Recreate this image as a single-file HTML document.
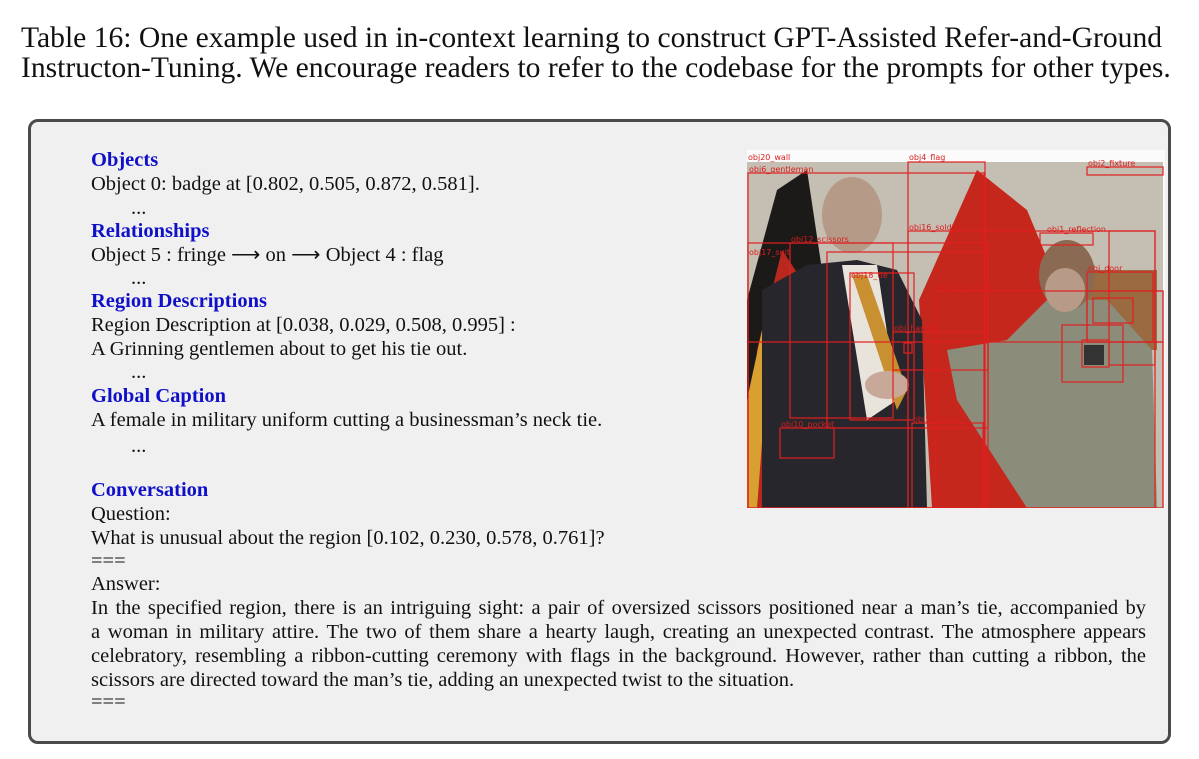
<!DOCTYPE html>
<html><head><meta charset="utf-8">
<style>
body{margin:0;width:1199px;height:759px;background:#fff;position:relative;overflow:hidden;font-family:"Liberation Serif",serif;color:#111}
.t{position:absolute;left:21px;font-size:29.6px;line-height:30px;white-space:nowrap}
#panel{position:absolute;left:28px;top:119px;width:1137px;height:619px;border:3px solid #4a4a4a;border-radius:10px;background:#f0f0f0}
.l{position:absolute;left:91px;font-size:20.5px;line-height:24px;white-space:nowrap}
.h{color:#1010c8;font-weight:bold}
.j{position:absolute;left:91px;width:1055px;font-size:20.5px;line-height:24px;text-align:justify;text-align-last:justify;white-space:nowrap}
svg text{font-family:"DejaVu Sans",sans-serif;font-size:8px;fill:#d81e1e}
</style></head><body>
<div class="t" style="top:23px">Table 16: One example used in in-context learning to construct GPT-Assisted Refer-and-Ground</div>
<div class="t" style="top:53px">Instructon-Tuning. We encourage readers to refer to the codebase for the prompts for other types.</div>
<div id="panel"></div>
<div class="l h" style="top:148px">Objects</div>
<div class="l" style="top:172px">Object 0: badge at [0.802, 0.505, 0.872, 0.581].</div>
<div class="l" style="top:196px;left:131px">...</div>
<div class="l h" style="top:219px">Relationships</div>
<div class="l" style="top:243px">Object 5 : fringe ⟶ on ⟶ Object 4 : flag</div>
<div class="l" style="top:266px;left:131px">...</div>
<div class="l h" style="top:289px">Region Descriptions</div>
<div class="l" style="top:313px">Region Description at [0.038, 0.029, 0.508, 0.995] :</div>
<div class="l" style="top:337px">A Grinning gentlemen about to get his tie out.</div>
<div class="l" style="top:360px;left:131px">...</div>
<div class="l h" style="top:384px">Global Caption</div>
<div class="l" style="top:408px">A female in military uniform cutting a businessman’s neck tie.</div>
<div class="l" style="top:434px;left:131px">...</div>
<div class="l h" style="top:478px">Conversation</div>
<div class="l" style="top:502px">Question:</div>
<div class="l" style="top:526px">What is unusual about the region [0.102, 0.230, 0.578, 0.761]?</div>
<div class="l" style="top:549px">===</div>
<div class="l" style="top:572px">Answer:</div>
<div class="j" style="top:596px">In the specified region, there is an intriguing sight: a pair of oversized scissors positioned near a man’s tie, accompanied by</div>
<div class="j" style="top:620px">a woman in military attire. The two of them share a hearty laugh, creating an unexpected contrast. The atmosphere appears</div>
<div class="j" style="top:644px">celebratory, resembling a ribbon-cutting ceremony with flags in the background. However, rather than cutting a ribbon, the</div>
<div class="l" style="top:668px">scissors are directed toward the man’s tie, adding an unexpected twist to the situation.</div>
<div class="l" style="top:690px">===</div>

<svg style="position:absolute;left:747px;top:150px" width="418" height="358">
<rect x="0" y="0" width="418" height="358" fill="#fbfbfb"/>
<rect x="0" y="12" width="416" height="346" fill="#c5beb2"/>
<polygon points="0,150 30,40 60,20 75,120 40,358 0,358" fill="#1c1a18"/>
<polygon points="10,200 35,100 55,130 30,358 5,358" fill="#b8281e"/>
<polygon points="0,250 15,180 22,200 10,358 0,358" fill="#d8a030"/>
<polygon points="172,150 230,20 280,60 330,180 320,358 185,358" fill="#c6271d"/>
<rect x="340" y="120" width="70" height="80" fill="#9a6a40"/>
<polygon points="15,140 60,115 110,110 150,120 175,170 180,358 15,358" fill="#26262c"/>
<polygon points="95,115 130,115 150,250 120,270" fill="#e8e4dc"/>
<polygon points="105,125 120,125 160,240 150,260" fill="#c89030"/>
<ellipse cx="105" cy="65" rx="30" ry="38" fill="#b59a88"/>
<polygon points="200,200 260,190 300,150 360,150 405,200 410,358 280,358 210,250" fill="#8b8c7a"/>
<ellipse cx="320" cy="125" rx="28" ry="35" fill="#8a6a52"/>
<ellipse cx="318" cy="140" rx="20" ry="22" fill="#b89a88"/>
<ellipse cx="140" cy="235" rx="22" ry="14" fill="#c8a898"/>
<rect x="337" y="195" width="20" height="20" fill="#333"/>
<g fill="none" stroke="#e02020" stroke-width="1.2">
<rect x="1" y="23" width="236" height="335"/>
<rect x="161" y="12" width="77" height="346"/>
<rect x="340" y="17" width="76" height="8"/>
<rect x="161" y="81" width="247" height="277"/>
<rect x="1" y="93" width="240" height="265"/>
<rect x="43" y="93" width="103" height="175"/>
<rect x="80" y="102" width="161" height="176"/>
<rect x="103" y="123" width="64" height="147"/>
<rect x="189" y="141" width="227" height="217"/>
<rect x="1" y="192" width="415" height="166"/>
<rect x="33" y="278" width="54" height="30"/>
<rect x="165" y="273" width="71" height="85"/>
<rect x="362" y="81" width="46" height="134"/>
<rect x="293" y="83" width="53" height="12"/>
<rect x="340" y="122" width="66" height="70"/>
<rect x="340" y="141" width="76" height="51"/>
<rect x="315" y="175" width="61" height="57"/>
<rect x="335" y="190" width="27" height="27"/>
<rect x="146" y="182" width="95" height="38"/>
<rect x="157" y="193" width="8" height="10"/>
<rect x="346" y="148" width="40" height="25"/>
</g>
<text x="1" y="10">obj20_wall</text>
<text x="2" y="22">obj6_gentleman</text>
<text x="162" y="10">obj4_flag</text>
<text x="341" y="16">obj2_fixture</text>
<text x="162" y="80">obj16_soldier</text>
<text x="44" y="92">obj12_scissors</text>
<text x="2" y="105">obj17_suit</text>
<text x="104" y="128">obj18_tie</text>
<text x="190" y="140">obj19_uniform</text>
<text x="300" y="82">obj1_reflection</text>
<text x="341" y="121">obj_door</text>
<text x="147" y="181">obj_handle</text>
<text x="34" y="277">obj10_pocket</text>
<text x="166" y="272">obj5_fringe</text>
</svg>
</body></html>
